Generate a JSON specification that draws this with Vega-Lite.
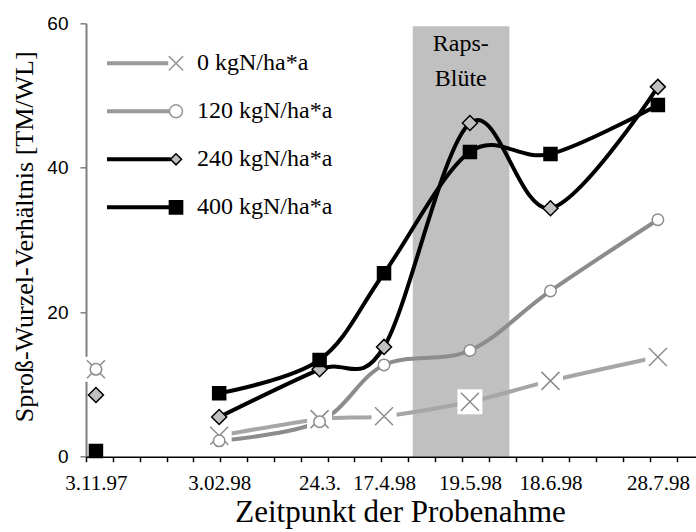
{
  "$schema": "https://vega.github.io/schema/vega-lite/v6.json",
  "width": 610,
  "height": 433.4,
  "autosize": {"type": "none"},
  "padding": {"left": 86, "top": 23.3, "right": 0, "bottom": 75.3},
  "background": "white",
  "config": {"view": {"stroke": null}, "font": "Liberation Serif", "axis": {"labelOverlap": false, "labelFlush": false}},
  "datasets": {
    "messung": [
      {"tag": 3.7, "reihe": "0 kgN/ha*a", "wert": 12.1},
      {"tag": 49.6, "reihe": "0 kgN/ha*a", "wert": 2.9},
      {"tag": 87, "reihe": "0 kgN/ha*a", "wert": 5.2},
      {"tag": 111, "reihe": "0 kgN/ha*a", "wert": 5.6},
      {"tag": 143, "reihe": "0 kgN/ha*a", "wert": 7.6},
      {"tag": 173, "reihe": "0 kgN/ha*a", "wert": 10.5},
      {"tag": 213, "reihe": "0 kgN/ha*a", "wert": 13.8},
      {"tag": 3.7, "reihe": "120 kgN/ha*a", "wert": 12.1},
      {"tag": 49.6, "reihe": "120 kgN/ha*a", "wert": 2.2},
      {"tag": 87, "reihe": "120 kgN/ha*a", "wert": 4.85},
      {"tag": 111, "reihe": "120 kgN/ha*a", "wert": 12.7},
      {"tag": 143, "reihe": "120 kgN/ha*a", "wert": 14.7},
      {"tag": 173, "reihe": "120 kgN/ha*a", "wert": 22.95},
      {"tag": 213, "reihe": "120 kgN/ha*a", "wert": 32.8},
      {"tag": 3.7, "reihe": "240 kgN/ha*a", "wert": 8.55},
      {"tag": 49.6, "reihe": "240 kgN/ha*a", "wert": 5.5},
      {"tag": 87, "reihe": "240 kgN/ha*a", "wert": 12.1},
      {"tag": 111, "reihe": "240 kgN/ha*a", "wert": 15.2},
      {"tag": 143, "reihe": "240 kgN/ha*a", "wert": 46.2},
      {"tag": 173, "reihe": "240 kgN/ha*a", "wert": 34.4},
      {"tag": 213, "reihe": "240 kgN/ha*a", "wert": 51.2},
      {"tag": 3.7, "reihe": "400 kgN/ha*a", "wert": 0.8},
      {"tag": 49.6, "reihe": "400 kgN/ha*a", "wert": 8.8},
      {"tag": 87, "reihe": "400 kgN/ha*a", "wert": 13.4},
      {"tag": 111, "reihe": "400 kgN/ha*a", "wert": 25.4},
      {"tag": 143, "reihe": "400 kgN/ha*a", "wert": 42.2},
      {"tag": 173, "reihe": "400 kgN/ha*a", "wert": 41.9},
      {"tag": 213, "reihe": "400 kgN/ha*a", "wert": 48.7}
    ],
    "bluete": [
      {"von": 121.7, "bis": 157.7, "oben": 59.6, "text": ["Raps-", "Blüte"]}
    ]
  },
  "data": {"name": "messung"},
  "layer": [
    {
      "data": {"name": "bluete"},
      "mark": {"type": "rect", "color": "#c0c0c0"},
      "encoding": {
        "x": {
          "field": "von", "type": "quantitative",
          "title": "Zeitpunkt der Probenahme",
          "scale": {"domain": [0, 227.2], "nice": false, "zero": false},
          "axis": {
            "values": [0, 10, 20, 30, 40, 50, 60, 70, 80, 90, 100, 110, 120, 130, 140, 150, 160, 170, 180, 190, 200, 210, 220, 3.7, 49.6, 87, 111, 143, 173, 213],
            "tickCount": 200,
            "labelExpr": "datum.value == 3.7 ? '3.11.97' : datum.value == 49.6 ? '3.02.98' : datum.value == 87 ? '24.3.' : datum.value == 111 ? '17.4.98' : datum.value == 143 ? '19.5.98' : datum.value == 173 ? '18.6.98' : datum.value == 213 ? '28.7.98' : ''",
            "tickOpacity": {"condition": {"test": "datum.value % 10 === 0", "value": 1}, "value": 0},
            "grid": false,
            "zindex": 1,
            "domainColor": "#000000", "domainWidth": 1.5,
            "tickColor": "#000000", "tickWidth": 1.5, "tickSize": 5,
            "labelFont": "Liberation Serif", "labelFontSize": 21, "labelColor": "#000000",
            "labelBaseline": "alphabetic", "labelPadding": 28,
            "labelOverlap": false, "labelFlush": false, "labelBound": false,
            "titleFont": "Liberation Serif", "titleFontSize": 31, "titleFontWeight": "normal", "titleColor": "#000000",
            "titleX": 314, "titleY": 65, "titleBaseline": "alphabetic", "titleAlign": "center", "titleAnchor": null
          }
        },
        "x2": {"field": "bis"},
        "y": {
          "field": "oben", "type": "quantitative",
          "title": "Sproß-Wurzel-Verhältnis [TM/WL]",
          "scale": {"domain": [0, 60], "nice": false},
          "axis": {
            "values": [0, 20, 40, 60],
            "grid": false,
            "domainColor": "#808080", "domainWidth": 2,
            "tickColor": "#808080", "tickWidth": 1.5, "tickSize": 6,
            "labelFont": "Liberation Sans", "labelFontSize": 19, "labelColor": "#000000", "labelPadding": 12,
            "titleFont": "Liberation Serif", "titleFontSize": 26, "titleFontWeight": "normal", "titleColor": "#000000",
            "titleAngle": -90, "titleX": -54, "titleY": 213, "titleBaseline": "alphabetic", "titleAlign": "center", "titleAnchor": null
          }
        },
        "y2": {"datum": 0}
      }
    },
    {
      "data": {"name": "bluete"},
      "mark": {"type": "text", "font": "Liberation Serif", "fontSize": 24, "align": "center", "baseline": "top", "dx": 48, "dy": 6, "lineHeight": 35, "color": "#000000"},
      "encoding": {
        "x": {"field": "von", "type": "quantitative", "title": "Zeitpunkt der Probenahme"},
        "y": {"field": "oben", "type": "quantitative", "title": "Sproß-Wurzel-Verhältnis [TM/WL]"},
        "text": {"field": "text"}
      }
    },
    {
      "transform": [{"filter": "datum.tag > 10"}],
      "mark": {"type": "line", "interpolate": "cardinal", "strokeWidth": 4},
      "encoding": {
        "x": {"field": "tag", "type": "quantitative", "title": "Zeitpunkt der Probenahme"},
        "y": {"field": "wert", "type": "quantitative", "title": "Sproß-Wurzel-Verhältnis [TM/WL]"},
        "color": {
          "field": "reihe", "type": "nominal",
          "scale": {"domain": ["0 kgN/ha*a", "120 kgN/ha*a", "240 kgN/ha*a", "400 kgN/ha*a"], "range": ["#a6a6a6", "#8c8c8c", "#000000", "#000000"]},
          "legend": null
        }
      }
    },
    {
      "transform": [{"filter": "datum.reihe === '0 kgN/ha*a'"}],
      "mark": {"type": "point", "shape": "square", "size": 625, "filled": true, "color": "#ffffff", "opacity": 1, "strokeWidth": 0},
      "encoding": {
        "x": {"field": "tag", "type": "quantitative", "title": "Zeitpunkt der Probenahme"},
        "y": {"field": "wert", "type": "quantitative", "title": "Sproß-Wurzel-Verhältnis [TM/WL]"}
      }
    },
    {
      "mark": {"type": "point", "opacity": 1, "strokeWidth": 1.5},
      "encoding": {
        "x": {"field": "tag", "type": "quantitative", "title": "Zeitpunkt der Probenahme"},
        "y": {"field": "wert", "type": "quantitative", "title": "Sproß-Wurzel-Verhältnis [TM/WL]"},
        "shape": {
          "field": "reihe", "type": "nominal",
          "scale": {"domain": ["0 kgN/ha*a", "120 kgN/ha*a", "240 kgN/ha*a", "400 kgN/ha*a"], "range": ["M-1,-1L1,1M-1,1L1,-1", "circle", "diamond", "square"]},
          "legend": null
        },
        "fill": {
          "field": "reihe", "type": "nominal",
          "scale": {"domain": ["0 kgN/ha*a", "120 kgN/ha*a", "240 kgN/ha*a", "400 kgN/ha*a"], "range": ["transparent", "#ffffff", "#c0c0c0", "#000000"]},
          "legend": null
        },
        "stroke": {
          "field": "reihe", "type": "nominal",
          "scale": {"domain": ["0 kgN/ha*a", "120 kgN/ha*a", "240 kgN/ha*a", "400 kgN/ha*a"], "range": ["#8c8c8c", "#8c8c8c", "#000000", "#000000"]},
          "legend": null
        },
        "size": {
          "field": "reihe", "type": "nominal",
          "scale": {"type": "ordinal", "domain": ["0 kgN/ha*a", "120 kgN/ha*a", "240 kgN/ha*a", "400 kgN/ha*a"], "range": [324, 132, 225, 169]},
          "legend": null
        }
      }
    },
    {
      "transform": [{"filter": "false"}],
      "mark": {"type": "point", "opacity": 1, "strokeWidth": 1.5},
      "encoding": {
        "x": {"field": "tag", "type": "quantitative", "title": "Zeitpunkt der Probenahme"},
        "y": {"field": "wert", "type": "quantitative", "title": "Sproß-Wurzel-Verhältnis [TM/WL]"},
        "shape": {
          "field": "reihe", "type": "nominal",
          "scale": {"domain": ["0 kgN/ha*a", "120 kgN/ha*a", "240 kgN/ha*a", "400 kgN/ha*a"], "range": [
            "M-11.5,-0.2H-1.3M-11.5,0H-1.3M-11.5,0.2H-1.3M-1.2,-1.2L1.2,1.2M-1.2,1.2L1.2,-1.2",
            "M-11.5,-0.2H-1.08M-11.5,0H-1.08M-11.5,0.2H-1.08M-1.08,0A1.08,1.08 0 1,1 1.08,0A1.08,1.08 0 1,1 -1.08,0Z",
            "M-11.5,-0.2H-0.9M-11.5,0H-0.9M-11.5,0.2H-0.9M-0.92,0L0,-0.92L0.92,0L0,0.92Z",
            "M-11.5,-0.2H-1.1M-11.5,0H-1.1M-11.5,0.2H-1.1M-1.1,-1.1H1.1V1.1H-1.1Z"
          ]},
          "legend": {"orient": "none", "legendX": 78, "legendY": 28, "title": null, "padding": 0, "symbolSize": 144, "symbolStrokeWidth": 1.5, "labelFont": "Liberation Serif", "labelFontSize": 24, "labelColor": "#000000", "labelOffset": 9, "rowPadding": 24, "labelLimit": 300}
        },
        "fill": {
          "field": "reihe", "type": "nominal",
          "scale": {"domain": ["0 kgN/ha*a", "120 kgN/ha*a", "240 kgN/ha*a", "400 kgN/ha*a"], "range": ["transparent", "#ffffff", "#c0c0c0", "#000000"]},
          "legend": {"orient": "none", "legendX": 78, "legendY": 28, "title": null, "padding": 0, "symbolSize": 144, "symbolStrokeWidth": 1.5, "labelFont": "Liberation Serif", "labelFontSize": 24, "labelColor": "#000000", "labelOffset": 9, "rowPadding": 24, "labelLimit": 300}
        },
        "stroke": {
          "field": "reihe", "type": "nominal",
          "scale": {"domain": ["0 kgN/ha*a", "120 kgN/ha*a", "240 kgN/ha*a", "400 kgN/ha*a"], "range": ["#999999", "#999999", "#000000", "#000000"]},
          "legend": {"orient": "none", "legendX": 78, "legendY": 28, "title": null, "padding": 0, "symbolSize": 144, "symbolStrokeWidth": 1.5, "labelFont": "Liberation Serif", "labelFontSize": 24, "labelColor": "#000000", "labelOffset": 9, "rowPadding": 24, "labelLimit": 300}
        }
      }
    }
  ],
  "resolve": {"scale": {"shape": "independent", "fill": "independent", "stroke": "independent"}}
}
